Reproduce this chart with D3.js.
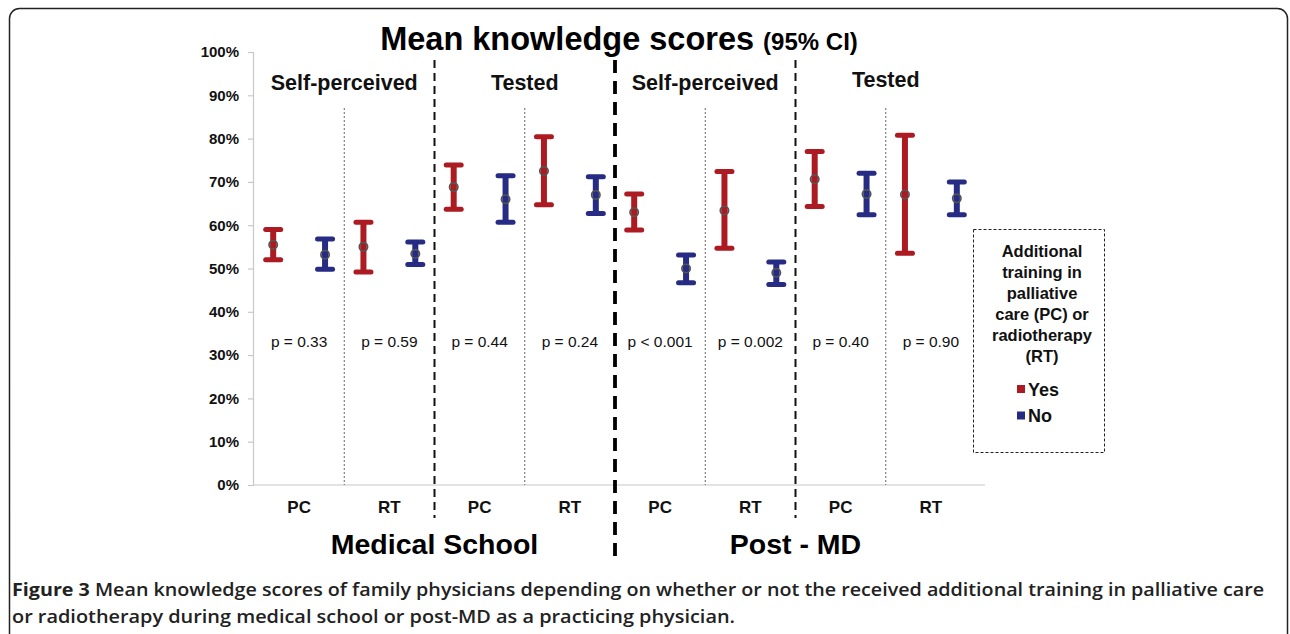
<!DOCTYPE html>
<html>
<head>
<meta charset="utf-8">
<script src="https://d3js.org/d3.v7.min.js"></script>
<style>
  html, body { margin: 0; padding: 0; background: #fff; }
  svg { display: block; }
</style>
</head>
<body>
<script>
// ---------------- DATA ----------------
const periods = ["Medical School", "Post - MD"];
const measures = ["Self-perceived", "Tested", "Self-perceived", "Tested"];
const categories = ["PC", "RT", "PC", "RT", "PC", "RT", "PC", "RT"];
const seriesNames = ["Yes", "No"];
const yesMean = [55.5, 55.0, 68.8, 72.5, 63.0, 63.4, 70.6, 67.1];
const yesLow  = [52.0, 49.2, 63.7, 64.7, 58.9, 54.7, 64.3, 53.5];
const yesHigh = [59.0, 60.7, 73.9, 80.4, 67.2, 72.4, 77.0, 80.8];
const noMean  = [53.2, 53.4, 66.0, 67.0, 50.0, 49.0, 67.2, 66.2];
const noLow   = [49.8, 50.9, 60.7, 62.7, 46.7, 46.3, 62.4, 62.4];
const noHigh  = [56.8, 56.1, 71.4, 71.2, 53.1, 51.5, 72.0, 70.0];
const pValues = ["p = 0.33", "p = 0.59", "p = 0.44", "p = 0.24", "p < 0.001", "p = 0.002", "p = 0.40", "p = 0.90"];
const yTicks = [0, 10, 20, 30, 40, 50, 60, 70, 80, 90, 100];
const legendTitle = ["Additional", "training in", "palliative", "care (PC) or", "radiotherapy", "(RT)"];
const captionLine1 = ["Figure 3", " Mean knowledge scores of family physicians depending on whether or not the received additional training in palliative care"];
const captionLine2 = "or radiotherapy during medical school or post-MD as a practicing physician.";

const colors = { Yes: "#ac1a22", No: "#262b84" };

// ---------------- SETUP ----------------
const W = 1290, H = 634;
const svg = d3.select("body").append("svg").attr("width", W).attr("height", H);
const FONT = "'Liberation Sans', Arial, sans-serif";

// frame
svg.append("rect")
  .attr("x", 9.5).attr("y", 8.5).attr("width", 1278).attr("height", 640)
  .attr("rx", 10).attr("ry", 10)
  .attr("fill", "none").attr("stroke", "#222").attr("stroke-width", 1.5);

const plotLeft = 253, plotBottom = 485, plotTop = 52;
const y = d3.scaleLinear().domain([0, 100]).range([plotBottom, plotTop]);
const x = d3.scaleBand().domain(d3.range(categories.length)).range([254, 976]).padding(0);
const xs = d3.scalePoint().domain(seriesNames).range([0, x.bandwidth()]).padding(0.37);

// Y axis
const yAxis = d3.axisLeft(y).tickValues(yTicks).tickFormat(d => d + "%").tickSize(5).tickPadding(9);
const gy = svg.append("g").attr("transform", `translate(${plotLeft},0)`).call(yAxis);
gy.select(".domain").attr("stroke", "#c8c8c8").attr("stroke-width", 1.2);
gy.selectAll(".tick line").attr("stroke", "#c8c8c8").attr("stroke-width", 1.2);
gy.selectAll(".tick text").attr("font-family", FONT).attr("font-weight", "bold")
  .attr("font-size", 15).attr("fill", "#111");

// X axis baseline
const xAxis = d3.axisBottom(x).tickSize(0).tickFormat(i => categories[i]).tickPadding(16);
const gx = svg.append("g").attr("transform", `translate(0,${plotBottom})`).call(xAxis);
gx.select(".domain").attr("stroke", "#c8c8c8").attr("stroke-width", 1.2)
  .attr("d", `M${plotLeft},0H985`);
gx.selectAll(".tick text").attr("font-family", FONT).attr("font-weight", "bold")
  .attr("font-size", 17).attr("fill", "#111");

// separators
const boundaries = d3.range(1, categories.length).map(i => x(i));
boundaries.forEach((bx, k) => {
  const i = k + 1;
  let sel = svg.append("line").attr("x1", bx).attr("x2", bx);
  if (i === 4) {
    sel.attr("y1", 60).attr("y2", 563).attr("stroke", "#000").attr("stroke-width", 3.8)
      .attr("stroke-dasharray", "13,8");
  } else if (i % 2 === 0) {
    sel.attr("y1", 60).attr("y2", 518).attr("stroke", "#111").attr("stroke-width", 2)
      .attr("stroke-dasharray", "8,5");
  } else {
    sel.attr("y1", 108).attr("y2", plotBottom).attr("stroke", "#666").attr("stroke-width", 1)
      .attr("stroke-dasharray", "2,2");
  }
});

// error bars
const series = [
  { name: "Yes", mean: yesMean, lo: yesLow, hi: yesHigh },
  { name: "No", mean: noMean, lo: noLow, hi: noHigh }
];
series.forEach(s => {
  const g = svg.append("g");
  const data = categories.map((c, i) => ({ i, m: s.mean[i], lo: s.lo[i], hi: s.hi[i] }));
  const cx = d => x(d.i) + xs(s.name);
  g.selectAll("line.v").data(data).join("line")
    .attr("x1", cx).attr("x2", cx)
    .attr("y1", d => y(d.hi)).attr("y2", d => y(d.lo))
    .attr("stroke", colors[s.name]).attr("stroke-width", 6);
  ["hi", "lo"].forEach(k => {
    g.selectAll("line.c" + k).data(data).join("line")
      .attr("x1", d => cx(d) - 7.5).attr("x2", d => cx(d) + 7.5)
      .attr("y1", d => y(d[k])).attr("y2", d => y(d[k]))
      .attr("stroke", colors[s.name]).attr("stroke-width", 5)
      .attr("stroke-linecap", "round");
  });
  g.selectAll("circle").data(data).join("circle")
    .attr("cx", cx).attr("cy", d => y(d.m)).attr("r", 4.2)
    .attr("fill", colors[s.name]).attr("fill-opacity", 0.6)
    .attr("stroke", "#555").attr("stroke-width", 1.6);
});

// p-values
svg.append("g").selectAll("text").data(pValues).join("text")
  .attr("x", (d, i) => x(i) + x.bandwidth() / 2).attr("y", 347)
  .attr("text-anchor", "middle").attr("font-family", FONT).attr("font-size", 15.5)
  .attr("fill", "#111").text(d => d);

// measure group labels
svg.append("g").selectAll("text").data(measures).join("text")
  .attr("x", (d, k) => x(2 * k + 1))
  .attr("y", (d, k) => k === 3 ? 87 : 90)
  .attr("text-anchor", "middle").attr("font-family", FONT).attr("font-weight", "bold")
  .attr("font-size", 21.5).attr("fill", "#111").text(d => d);

// period labels
svg.append("g").selectAll("text").data(periods).join("text")
  .attr("x", (d, k) => x(4 * k + 2))
  .attr("y", 554)
  .attr("text-anchor", "middle").attr("font-family", FONT).attr("font-weight", "bold")
  .attr("font-size", 28.5).attr("fill", "#000").text(d => d);

// title
const title = svg.append("text").attr("x", 619).attr("y", 50).attr("text-anchor", "middle")
  .attr("font-family", FONT).attr("font-weight", "bold").attr("fill", "#000");
title.append("tspan").attr("font-size", 32.5).text("Mean knowledge scores ");
title.append("tspan").attr("font-size", 24).text("(95% CI)");

// legend
const lg = svg.append("g");
lg.append("rect").attr("x", 973.5).attr("y", 229.5).attr("width", 131).attr("height", 223)
  .attr("fill", "none").attr("stroke", "#222").attr("stroke-width", 1)
  .attr("stroke-dasharray", "3,2");
lg.selectAll("text.t").data(legendTitle).join("text")
  .attr("x", 1042).attr("y", (d, i) => 257 + i * 21)
  .attr("text-anchor", "middle").attr("font-family", FONT).attr("font-weight", "bold")
  .attr("font-size", 16.5).attr("fill", "#111").text(d => d);
const li = lg.selectAll("g.item").data(seriesNames).join("g")
  .attr("transform", (d, i) => `translate(1017,${389 + i * 26.5})`);
li.append("rect").attr("x", 0).attr("y", -4).attr("width", 8).attr("height", 8)
  .attr("fill", d => colors[d]);
li.append("text").attr("x", 11).attr("y", 6.5).attr("font-family", FONT).attr("font-weight", "bold")
  .attr("font-size", 18).attr("fill", "#111").text(d => d);

// caption
const CAPFONT = "'Open Sans', 'Noto Sans', sans-serif";
const c1 = svg.append("text").attr("x", 12).attr("y", 596)
  .attr("font-family", CAPFONT).attr("font-size", 18).attr("fill", "#222")
  .attr("textLength", 1252).attr("lengthAdjust", "spacingAndGlyphs");
c1.append("tspan").attr("font-weight", "bold").text(captionLine1[0]);
c1.append("tspan").attr("font-weight", 600).text(captionLine1[1]);
svg.append("text").attr("x", 12).attr("y", 623)
  .attr("font-family", CAPFONT).attr("font-size", 18).attr("font-weight", 600).attr("fill", "#222")
  .attr("textLength", 723).attr("lengthAdjust", "spacingAndGlyphs")
  .text(captionLine2);
</script>
</body>
</html>
